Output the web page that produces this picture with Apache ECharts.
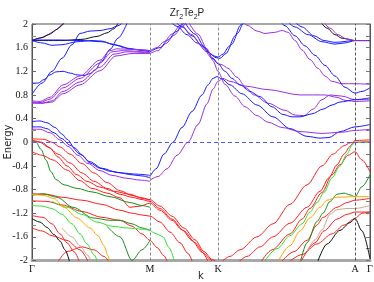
<!DOCTYPE html>
<html><head><meta charset="utf-8">
<script src="https://cdn.jsdelivr.net/npm/echarts@6/dist/echarts.min.js"></script>
<style>html,body{margin:0;padding:0;background:#fff}#c{width:374px;height:282px}</style>
</head><body><div id="c"></div>
<script>
// k-path tick positions and labels
const kTicks = [0, 118, 186, 323, 338];
const kLabels = ['Γ', 'M', 'K', 'A', 'Γ'];
const eTicks = [-2, -1.6, -1.2, -0.8, -0.4, 0, 0.4, 0.8, 1.2, 1.6, 2];

// ---- conduction bands ----
const cPurpleUpG = [[0,1.72],[8,1.76],[15,1.81],[22,1.88],[28,1.95],[32,2.02]];
const cBlackUpG = [[0,1.72],[10,1.77],[18,1.83],[25,1.91],[31,2.0],[34,2.05]];
const cBlackFlat = [[0,1.72],[30,1.72],[50,1.74],[65,1.79],[75,1.85],[82,1.92],[87,2.05]];
const cBlueDip = [[0,1.72],[10,1.68],[20,1.64],[30,1.65],[45,1.70],[60,1.72],[70,1.71],[80,1.66],[95,1.59],[110,1.56],[118,1.55]];
const cBlueFlat = [[0,1.73],[25,1.73],[50,1.72],[70,1.70],[85,1.64],[100,1.57],[118,1.53]];
const cBlueSteep = [[0,0.81],[10,1.0],[20,1.2],[30,1.42],[40,1.65],[48,1.84],[58,1.88],[68,1.89],[78,1.92],[86,1.97],[92,2.05]];
const cBlueBump = [[0,1.0],[6,1.0],[12,1.06],[18,1.14],[24,1.19],[31,1.2],[38,1.17],[45,1.14],[52,1.13],[58,1.16],[63,1.22],[70,1.38],[78,1.57],[86,1.76],[96,2.05]];
const fan1 = [[0,0.70],[8,0.69],[18,0.76],[31,0.97],[48,1.12],[68,1.39],[78,1.55],[85,1.58],[100,1.57],[118,1.55]];
const fan2 = [[0,0.68],[8,0.67],[18,0.73],[31,0.92],[48,1.08],[68,1.34],[80,1.53],[90,1.55],[118,1.52]];
const fan3 = [[0,0.67],[10,0.66],[20,0.70],[31,0.86],[48,1.02],[68,1.27],[82,1.49],[95,1.53],[118,1.51]];
const fan4 = [[0,0.66],[10,0.66],[20,0.68],[31,0.82],[48,0.97],[68,1.21],[84,1.46],[100,1.5],[118,1.50]];
const mUp1 = [[118,1.55],[125,1.6],[132,1.7],[140,1.83],[148,1.97],[152,2.05]];
const mUp2 = [[118,1.50],[126,1.55],[134,1.67],[142,1.81],[150,1.95],[155,2.05]];
const mUp3 = [[118,1.53],[128,1.6],[136,1.73],[144,1.87],[151,2.0],[154,2.05]];
const kD1 = [[138,2.05],[145,1.96],[155,1.82],[165,1.68],[175,1.53],[182,1.46],[186,1.44],[191,1.49],[197,1.62],[203,1.8],[208,1.97],[211,2.05]];
const kD2 = [[143,2.05],[150,1.95],[160,1.8],[170,1.64],[178,1.5],[184,1.43],[188,1.42],[194,1.5],[200,1.66],[206,1.85],[211,2.0],[213,2.05]];
const kD3 = [[148,2.05],[160,1.82],[170,1.62],[180,1.42],[186,1.33],[190,1.31],[196,1.25],[205,1.1],[214,0.92],[222,0.8],[236,0.66],[253,0.54],[263,0.46],[272,0.45],[281,0.56],[290,0.72],[298,0.8],[310,0.78],[323,0.72],[338,0.72]];
const kD4 = [[152,2.05],[163,1.83],[173,1.6],[181,1.42],[186,1.33],[193,1.2],[200,1.08],[208,0.97],[218,0.86],[228,0.77],[240,0.6],[251,0.47],[260,0.43],[268,0.43],[280,0.48],[291,0.56],[300,0.63],[308,0.68],[323,0.72],[338,0.75]];
const kD5 = [[156,2.05],[166,1.83],[175,1.58],[181,1.38],[186,1.2],[193,0.98],[203,0.78],[213,0.6],[225,0.45],[236,0.34],[250,0.25],[268,0.18],[290,0.15],[310,0.17],[323,0.2],[338,0.22]];
const rBlue = [[118,-0.58],[124,-0.45],[132,-0.2],[141,0.0],[150,0.25],[160,0.52],[170,0.8],[176,0.97],[181,1.08],[185,1.11],[190,1.07],[198,0.97],[210,0.82],[225,0.63],[241,0.43],[258,0.23],[275,0.1],[288,0.07],[297,0.08],[308,0.18],[323,0.26],[338,0.3]];
const rPurple = [[118,-0.64],[126,-0.58],[135,-0.45],[145,-0.22],[156,0.0],[166,0.3],[175,0.65],[181,0.9],[186,1.03],[191,1.08],[198,1.03],[213,0.95],[236,0.89],[268,0.8],[293,0.8],[305,0.76],[313,0.71],[323,0.69],[338,0.7]];
const gBlue1 = [[0,0.35],[8,0.36],[15,0.33],[23,0.25],[30,0.14],[35,0.05],[43,-0.1],[50,-0.22],[58,-0.35],[68,-0.44],[78,-0.49],[90,-0.52],[105,-0.54],[118,-0.56]];
const gBlue2 = [[0,0.26],[8,0.26],[15,0.23],[22,0.16],[30,0.06],[38,-0.05],[48,-0.2],[58,-0.33],[70,-0.44],[85,-0.51],[100,-0.55],[110,-0.57],[118,-0.6]];
const gPurple = [[0,0.22],[8,0.22],[18,0.16],[28,0.04],[36,-0.07],[46,-0.22],[56,-0.36],[68,-0.48],[80,-0.56],[95,-0.61],[108,-0.64],[118,-0.66]];
const aPurpleTop = [[210,2.05],[215,1.98],[225,1.88],[233,1.84],[243,1.86],[250,1.89],[256,1.86],[263,1.72],[270,1.56],[278,1.40],[286,1.25],[293,1.12],[300,1.03],[310,0.99],[323,0.99],[338,0.98]];
const aBlueDesc = [[248,2.05],[253,1.97],[263,1.8],[273,1.63],[283,1.47],[293,1.3],[303,1.12],[313,0.93],[323,0.83],[330,0.86],[338,0.92]];
const aBlueTop1 = [[255,2.05],[263,1.95],[276,1.82],[290,1.7],[303,1.66],[313,1.68],[323,1.72],[338,1.72]];
const aBlueTop2 = [[262,2.05],[270,1.95],[282,1.8],[292,1.72],[303,1.69],[323,1.72],[338,1.72]];
const aBlack = [[288,2.05],[295,1.93],[303,1.82],[310,1.76],[323,1.72],[338,1.72]];
const aPurple2 = [[291,2.05],[298,1.93],[306,1.82],[314,1.75],[323,1.72],[338,1.72]];

// ---- valence bands ----
const vRed1 = [[0,0.06],[12,0.05],[20,0.0],[28,-0.08],[38,-0.2],[50,-0.36],[62,-0.52],[75,-0.68],[88,-0.82],[100,-0.9],[110,-0.94],[118,-0.97],[128,-1.08],[140,-1.25],[152,-1.45],[163,-1.65],[172,-1.85],[180,-1.98],[186,-2.05]];
const vRed2 = [[0,0.03],[8,0.0],[16,-0.08],[26,-0.2],[38,-0.35],[50,-0.52],[62,-0.66],[75,-0.78],[88,-0.88],[100,-0.93],[110,-0.97],[118,-1.0],[128,-1.12],[140,-1.3],[152,-1.5],[163,-1.7],[172,-1.88],[178,-1.98],[182,-2.05]];
const vRed3 = [[0,-0.16],[10,-0.22],[21,-0.3],[35,-0.47],[48,-0.65],[60,-0.78],[75,-0.86],[88,-0.94],[98,-1.1],[108,-1.08],[118,-1.03],[128,-1.15],[140,-1.32],[150,-1.48],[160,-1.66],[170,-1.86],[177,-2.05]];
const vRed9 = [[0,0.04],[10,0.0],[18,-0.1],[26,-0.25],[35,-0.4],[45,-0.55],[55,-0.66],[68,-0.76],[82,-0.83],[98,-0.88],[110,-0.95],[118,-0.98]];
const vRed4 = [[0,-0.87],[14,-0.88],[30,-0.93],[50,-0.98],[70,-1.05],[88,-1.15],[100,-1.2],[110,-1.23],[118,-1.25],[128,-1.35],[138,-1.52],[148,-1.7],[156,-1.88],[161,-2.05]];
const vRed5 = [[0,-0.99],[15,-1.0],[30,-1.06],[50,-1.17],[70,-1.27],[88,-1.32],[100,-1.42],[110,-1.55],[118,-1.66],[125,-1.78],[132,-1.92],[136,-2.05]];
const vRed6 = [[0,-1.24],[11,-1.27],[20,-1.38],[28,-1.55],[35,-1.7],[42,-1.85],[48,-2.05]];
const vRed7 = [[0,-1.45],[10,-1.5],[20,-1.58],[35,-1.66],[48,-1.82],[57,-2.05]];
const vRed8 = [[25,-2.05],[35,-1.85],[50,-1.77],[62,-1.82],[72,-1.93],[78,-2.05]];
const vGreenD1 = [[0,0.02],[4,0.0],[9,-0.12],[14,-0.3],[19,-0.5],[24,-0.63],[32,-0.72],[45,-0.78],[60,-0.84],[78,-0.92],[98,-1.02],[110,-1.07],[118,-1.1]];
const vGreenD2 = [[0,-0.9],[11,-0.87],[25,-0.93],[41,-1.1],[61,-1.28],[78,-1.32],[88,-1.32],[100,-1.38],[110,-1.45],[118,-1.49]];
const vGreenL1 = [[118,-1.49],[125,-1.55],[131,-1.6],[137,-1.78],[143,-2.05]];
const vGreenDV = [[75,-1.42],[88,-1.6],[100,-2.0],[110,-1.82],[118,-1.66]];
const vGreenL2 = [[0,-1.07],[10,-1.08],[20,-1.12],[30,-1.22],[40,-1.38],[48,-1.55],[55,-1.72],[62,-1.9],[66,-2.05]];
const vGreenL3 = [[20,-1.0],[35,-1.1],[50,-1.22],[65,-1.35],[80,-1.42],[95,-1.45],[110,-1.47],[118,-1.49]];
const vOrange = [[0,-0.88],[12,-0.9],[22,-0.95],[32,-1.1],[45,-1.28],[58,-1.45],[66,-1.58],[72,-1.75],[76,-1.92],[78,-2.05]];
const vBlackG = [[0,-1.29],[8,-1.35],[15,-1.44],[22,-1.56],[28,-1.67],[33,-1.82],[38,-2.05]];
const vTanG = [[30,-1.45],[40,-1.6],[48,-1.75],[55,-1.9],[60,-2.05]];
const vRedA1 = [[188,-2.05],[198,-1.93],[208,-1.82],[225,-1.6],[241,-1.38],[258,-1.05],[275,-0.72],[290,-0.4],[301,-0.2],[312,-0.06],[318,-0.01],[323,0.0],[338,0.01]];
const vRedA2 = [[205,-2.05],[215,-1.93],[228,-1.77],[241,-1.6],[258,-1.37],[275,-1.1],[288,-0.83],[297,-0.6],[305,-0.38],[312,-0.2],[318,-0.07],[323,0.03],[338,0.04]];
const vRedA3 = [[228,-2.05],[240,-1.82],[258,-1.55],[270,-1.3],[278,-1.12],[290,-0.85],[300,-0.55],[308,-0.38],[316,-0.22],[323,-0.16],[330,-0.3],[338,-0.5]];
const vRedA4 = [[248,-2.05],[262,-1.85],[275,-1.66],[285,-1.4],[291,-1.27],[305,-1.1],[315,-1.02],[323,-0.98],[338,-0.95]];
const vRedA5 = [[268,-2.05],[283,-1.7],[292,-1.5],[305,-1.3],[315,-1.22],[323,-1.18],[338,-1.18]];
const vRedA6 = [[255,-2.05],[270,-1.9],[285,-1.72],[300,-1.55],[312,-1.4],[323,-1.29],[330,-1.2],[338,-1.18]];
const vGreenLA = [[231,-2.05],[245,-1.8],[258,-1.58],[270,-1.38],[278,-1.18],[285,-1.02],[292,-0.85],[300,-0.6],[308,-0.4],[315,-0.2],[320,-0.05],[323,0.0],[338,0.0]];
const vGreenDA = [[268,-2.05],[275,-1.7],[285,-1.34],[291,-1.2],[298,-1.0],[305,-0.88],[312,-0.86],[318,-0.89],[323,-0.92],[330,-0.75],[338,-0.55]];
const vOrangeA = [[245,-2.05],[258,-1.75],[268,-1.5],[278,-1.28],[288,-1.1],[295,-0.98],[305,-0.93],[323,-0.92],[338,-0.92]];
const vTanA = [[275,-1.85],[283,-1.65],[290,-1.48],[298,-1.22],[305,-1.14],[315,-1.12],[323,-1.12],[338,-1.07]];
const vBlackA = [[285,-2.05],[295,-1.72],[308,-1.49],[318,-1.36],[323,-1.29],[330,-1.5],[338,-1.97]];

const BLUE = '#1a1aff', PURPLE = '#9a30e0', BLACK = '#111111', RED = '#ff2020',
      GREEN_D = '#1a8f1a', GREEN_L = '#30e030', ORANGE = '#ffa500', TAN = '#c8a890';

const bands = [
  [vRed1, RED],[vRed2, RED],[vRed3, RED],[vRed9, RED],[vRed4, RED],[vRed5, RED],[vRed6, RED],[vRed7, RED],[vRed8, RED],
  [vGreenD1, GREEN_D],[vGreenD2, GREEN_D],[vGreenL1, GREEN_L],[vGreenDV, GREEN_D],[vGreenL2, GREEN_L],[vGreenL3, GREEN_L],
  [vOrange, ORANGE],[vBlackG, BLACK],[vTanG, TAN],
  [vRedA1, RED],[vRedA2, RED],[vRedA3, RED],[vRedA4, RED],[vRedA5, RED],[vRedA6, RED],
  [vGreenLA, GREEN_L],[vGreenDA, GREEN_D],[vOrangeA, ORANGE],[vTanA, TAN],[vBlackA, BLACK],
  [gBlue1, BLUE],[gBlue2, BLUE],[gPurple, PURPLE],[rBlue, BLUE],[rPurple, PURPLE],
  [cPurpleUpG, PURPLE],[cBlackUpG, BLACK],[cBlackFlat, BLACK],[cBlueDip, BLUE],[cBlueFlat, BLUE],
  [cBlueSteep, BLUE],[cBlueBump, BLUE],[fan1, PURPLE],[fan2, PURPLE],[fan3, PURPLE],[fan4, PURPLE],
  [mUp1, PURPLE],[mUp2, PURPLE],[mUp3, BLUE],[kD1, BLUE],[kD2, BLUE],[kD3, PURPLE],[kD4, BLUE],[kD5, PURPLE],
  [aPurpleTop, PURPLE],[aBlueDesc, BLUE],[aBlueTop1, BLUE],[aBlueTop2, BLUE],[aBlack, BLACK],[aPurple2, PURPLE]
];

const chart = echarts.init(document.getElementById('c'), null, {renderer: 'canvas'});
const series = bands.map(([d, col]) => ({
  type: 'line', data: d, showSymbol: false, smooth: 0.3, smoothMonotone: 'x',
  lineStyle: {color: col, width: 1}, silent: true, animation: false, z: 2
}));
series.push({
  type: 'line', data: [], silent: true, animation: false,
  markLine: {
    silent: true, symbol: ['none', 'none'], label: {show: false}, animation: false,
    data: [
      {xAxis: kTicks[1], lineStyle: {color: '#8a8a8a', type: [3, 2], width: 1}},
      {xAxis: kTicks[2], lineStyle: {color: '#8a8a8a', type: [3, 2], width: 1}},
      {xAxis: kTicks[3], lineStyle: {color: '#555', type: [3, 2], width: 1}},
      {yAxis: 0, lineStyle: {color: '#5555ff', type: [4, 3], width: 1}}
    ]
  }
});

chart.setOption({
  animation: false,
  backgroundColor: '#fff',
  title: {
    text: '{a|Zr}{s|2}{a|Te}{s|2}{a|P}', left: 182, top: 0, textAlign: 'center',
    textStyle: {fontWeight: 'normal', rich: {
      a: {fontFamily: 'Liberation Sans', fontSize: 10, fontWeight: 'normal', color: '#222', lineHeight: 16, verticalAlign: 'middle'},
      s: {fontFamily: 'Liberation Sans', fontSize: 7, fontWeight: 'normal', color: '#222', lineHeight: 16, verticalAlign: 'bottom'}
    }}
  },
  graphic: [
    {type: 'text', x: 8, y: 142, rotation: Math.PI / 2, silent: true,
     style: {text: 'Energy', fontFamily: 'DejaVu Sans', fontSize: 10, fill: '#222', align: 'center', verticalAlign: 'middle'}},
    {type: 'text', x: 201, y: 276, silent: true,
     style: {text: 'k', fontFamily: 'DejaVu Sans', fontSize: 10, fill: '#222', align: 'center', verticalAlign: 'middle'}}
  ],
  grid: {left: 32, top: 24, width: 338, height: 236.5, show: true, borderColor: '#555', borderWidth: 1,
         containLabel: false, outerBoundsMode: 'none'},
  xAxis: {
    type: 'value', min: 0, max: 338,
    axisLine: {show: true, onZero: false, lineStyle: {color: '#a8a8a8', width: 3}},
    axisTick: {show: false},
    splitLine: {show: false},
    axisLabel: {
      customValues: kTicks, margin: 4,
      formatter: v => kLabels[kTicks.indexOf(v)] || '',
      fontFamily: 'Liberation Serif', fontSize: 10, color: '#111'
    }
  },
  yAxis: [{
    type: 'value', min: -2, max: 2, interval: 0.4,
    axisLine: {show: true, lineStyle: {color: '#555'}},
    axisTick: {show: true, inside: true, length: 4, lineStyle: {color: '#666'}},
    minorTick: {show: true, splitNumber: 2, length: 4, lineStyle: {color: '#888'}},
    splitLine: {show: false},
    axisLabel: {
      customValues: eTicks, margin: 4,
      formatter: v => String(Math.round(v * 10) / 10),
      fontFamily: 'Liberation Serif', fontSize: 10, color: '#111'
    }
  }, {
    type: 'value', min: -2, max: 2, interval: 0.2, position: 'right',
    axisLine: {show: true, lineStyle: {color: '#555'}},
    axisTick: {show: true, inside: true, length: 4, lineStyle: {color: '#777'}},
    axisLabel: {show: false}, splitLine: {show: false}
  }],
  series: series
});
</script></body></html>
